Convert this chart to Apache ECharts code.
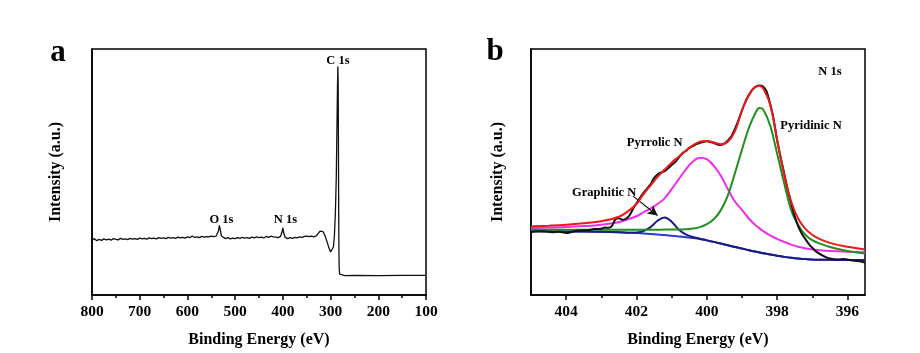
<!DOCTYPE html>
<html><head><meta charset="utf-8">
<script src="https://cdn.jsdelivr.net/npm/echarts@6/dist/echarts.min.js"></script>
<style>html,body{margin:0;padding:0;background:#fff}#c{width:920px;height:353px}</style>
</head><body><div id="c"></div>
<script>
// ---- Panel a: XPS survey ----
const surveyEnergy = [800,795,790,785,780,775,770,765,760,755,750,745,740,735,730,725,720,715,710,705,700,695,690,685,680,675,670,665,660,655,650,645,640,635,630,625,620,615,610,605,600,595,590,585,580,575,570,565,560,555,550,545,540,537,535,533,531,529,526,520,515,510,505,500,495,490,485,480,475,470,465,460,455,450,445,440,435,430,425,420,415,410,405,402,400,398,395,390,385,380,375,370,365,360,355,350,345,340,335,330,326,322,319,316,312,308,304,300,298,296,294,292,290,288,286.5,285.5,284.7,284,283.5,283,282.5,282,281,280,270,250,200,150,100];
const surveyIntensity = [22.3,22.9,22.1,22.6,22.2,22.8,22.4,22.7,22.3,22.9,22.6,22.4,23.0,22.6,22.8,22.5,23.0,22.7,22.9,22.6,23.1,22.8,23.0,22.7,23.2,22.9,23.1,22.8,23.3,23.0,23.2,22.9,23.4,23.1,23.3,23.0,23.5,23.2,23.4,23.1,23.6,23.3,24.0,23.4,23.6,23.3,23.8,23.5,23.7,23.6,23.9,23.7,23.9,24.2,26.0,28.3,26.5,24.0,23.2,22.9,23.3,22.8,23.1,22.9,23.3,23.0,23.4,23.1,23.3,23.0,23.5,23.2,23.6,23.3,23.5,23.2,23.8,23.4,23.9,23.6,23.5,23.3,23.8,25.5,27.3,25.0,23.4,22.9,23.3,23.0,23.4,23.2,23.6,23.4,23.8,23.9,23.7,23.9,23.6,24.0,24.8,26.0,26.3,25.8,24.3,22.0,19.5,17.5,16.9,17.2,19.5,24.0,33.0,48.0,70.0,85.0,92.9,85.0,60.0,35.0,18.0,11.0,8.5,8.0,7.9,8.0,7.9,8.0,8.0];
const surveyTicks = [800,700,600,500,400,300,200,100];
const surveyPeakLabels = ['C 1s','O 1s','N 1s'];

// ---- Panel b: N 1s high-resolution ----
const fitEnergy = [405,404.5,404,403.5,403,402.5,402.2,402,401.8,401.6,401.4,401.2,401,400.8,400.6,400.4,400.2,400,399.8,399.6,399.4,399.2,399,398.8,398.6,398.5,398.4,398.2,398,397.8,397.6,397.4,397.2,397,396.8,396.5,396,395.5];
const backgroundValues = [25.9,25.9,25.8,25.8,25.7,25.5,25.3,25.2,25.0,24.8,24.6,24.4,24.1,23.8,23.5,23.2,22.8,22.2,21.6,20.9,20.2,19.5,18.9,18.2,17.6,17.3,17.0,16.5,16.0,15.5,15.1,14.8,14.6,14.4,14.3,14.3,14.2,14.2];
const graphiticValues = [25.9,25.9,25.8,25.8,25.7,25.5,25.3,25.4,26.0,27.6,30.2,31.5,29.8,26.6,24.6,23.6,22.9,22.2,21.6,20.9,20.2,19.5,18.9,18.2,17.6,17.3,17.0,16.5,16.0,15.5,15.1,14.8,14.6,14.4,14.3,14.3,14.2,14.2];
const pyrrolicValues = [27.2,27.4,27.6,28.0,28.6,29.6,31.0,32.0,33.6,35.2,37.0,39.3,43.0,47.0,51.0,54.2,55.8,55.2,52.5,48.5,43.0,38.0,34.6,31.0,28.2,27.1,26.0,24.2,22.8,21.6,20.5,19.6,19.0,18.5,18.2,17.9,17.6,17.4];
const pyridinicValues = [26.5,26.5,26.5,26.5,26.5,26.5,26.5,26.5,26.5,26.5,26.5,26.6,26.6,26.6,26.7,27.0,27.6,28.8,30.8,34.5,40.5,49.5,59.0,68.0,74.5,76.0,75.5,69.0,57.5,45.5,34.5,28.5,24.5,22.3,21.0,19.5,17.9,16.9];
const envelopeValues = [27.9,28.2,28.6,29.2,30.0,31.8,34.5,37.0,41.0,44.5,48.0,51.0,53.8,56.2,58.6,60.8,62.3,62.6,62.0,61.3,62.3,66.5,75.0,81.5,84.8,85.0,84.0,77.5,63.0,49.0,38.0,31.0,27.0,24.5,22.8,21.2,19.6,18.5];
const expEnergy = [405,404.8,404.6,404.4,404.2,404.0,403.8,403.6,403.4,403.2,403.0,402.9,402.8,402.7,402.6,402.5,402.4,402.3,402.2,402.1,402.0,401.9,401.8,401.7,401.6,401.5,401.4,401.3,401.2,401.1,401.0,400.9,400.8,400.7,400.6,400.5,400.4,400.3,400.2,400.1,400.0,399.9,399.8,399.7,399.6,399.5,399.4,399.3,399.2,399.1,399.0,398.9,398.8,398.7,398.6,398.5,398.4,398.3,398.2,398.1,398.0,397.9,397.8,397.7,397.6,397.5,397.4,397.3,397.2,397.1,397.0,396.9,396.8,396.7,396.6,396.5,396.3,396.1,395.9,395.7,395.5];
const expValues = [25.6,25.9,25.8,25.5,25.7,25.2,25.8,26.2,26.3,26.8,26.9,27.4,27.3,28.0,30.8,31.2,30.6,31.0,32.3,35.0,37.3,39.5,41.5,43.2,45.0,47.5,49.0,49.8,50.3,51.5,52.8,54.0,55.8,57.5,58.5,59.8,60.5,61.3,61.8,62.3,62.5,62.2,61.8,61.2,61.0,61.5,62.8,64.5,67.5,71.0,75.0,78.5,81.3,83.5,84.7,85.2,84.8,82.8,77.8,71.5,63.0,56.0,49.5,43.0,37.3,32.0,27.9,25.0,22.8,20.8,19.2,17.8,16.8,16.0,15.3,14.8,14.4,14.6,14.1,13.8,13.2];
const n1sTicks = [404,402,400,398,396];
const n1sMinorTicks = [403,401,399,397];
const n1sLabels = ['N 1s','Pyridinic N','Pyrrolic N','Graphitic N'];

const FONT = "'Liberation Serif','Times New Roman',serif";
const zip = (xs, ys) => xs.map((x, i) => [x, ys[i]]);
const axisLineStyle = {color:'#000', width:1.5};

const chart = echarts.init(document.getElementById('c'), null, {renderer:'canvas'});

function lineSeries(xi, data, color, width, z) {
  return {type:'line', xAxisIndex:xi, yAxisIndex:xi, data, showSymbol:false, symbol:'none',
    smooth: false, lineStyle:{color, width}, z: z, animation:false};
}

const option = {
  animation:false,
  backgroundColor:'#fff',
  grid:[
    {left:92, right:494, top:49, bottom:56, show:true, borderColor:'#000', borderWidth:1.5, backgroundColor:'transparent'},
    {left:531, right:55, top:49, bottom:55, show:true, borderColor:'#000', borderWidth:1.5, backgroundColor:'transparent'}
  ],
  xAxis:[
    {type:'value', gridIndex:0, min:100, max:800, interval:100, inverse:true,
     name:'Binding Energy (eV)', nameLocation:'middle', nameGap:37,
     nameTextStyle:{fontFamily:FONT, fontWeight:'bold', fontSize:16, color:'#000'},
     axisLine:{show:true, lineStyle:axisLineStyle},
     axisTick:{show:true, inside:false, length:5, lineStyle:{color:'#000', width:1.5}},
     minorTick:{show:true, splitNumber:2, length:3, lineStyle:{color:'#000', width:1.5}},
     axisLabel:{fontFamily:FONT, fontWeight:'bold', fontSize:15.5, color:'#000', margin:9,
       customValues: surveyTicks},
     splitLine:{show:false}},
    {type:'value', gridIndex:1, min:395.5, max:405, inverse:true,
     name:'Binding Energy (eV)', nameLocation:'middle', nameGap:37,
     nameTextStyle:{fontFamily:FONT, fontWeight:'bold', fontSize:16, color:'#000'},
     axisLine:{show:true, lineStyle:axisLineStyle},
     axisTick:{show:true, inside:false, length:5, customValues:n1sTicks, lineStyle:{color:'#000', width:1.5}},
     axisLabel:{fontFamily:FONT, fontWeight:'bold', fontSize:15.5, color:'#000', margin:9, customValues:n1sTicks},
     splitLine:{show:false}},
    {type:'value', gridIndex:1, min:395.5, max:405, inverse:true, position:'bottom',
     axisLine:{show:false},
     axisTick:{show:true, inside:false, length:3, customValues:n1sMinorTicks, lineStyle:{color:'#000', width:1.5}},
     axisLabel:{show:false},
     splitLine:{show:false}}
  ],
  yAxis:[
    {type:'value', gridIndex:0, min:0, max:100,
     name:'Intensity (a.u.)', nameLocation:'middle', nameGap:28,
     nameTextStyle:{fontFamily:FONT, fontWeight:'bold', fontSize:16, color:'#000'},
     axisLine:{show:true, lineStyle:axisLineStyle}, axisTick:{show:false}, axisLabel:{show:false}, splitLine:{show:false}},
    {type:'value', gridIndex:1, min:0, max:100,
     name:'Intensity (a.u.)', nameLocation:'middle', nameGap:25,
     nameTextStyle:{fontFamily:FONT, fontWeight:'bold', fontSize:16, color:'#000'},
     axisLine:{show:true, lineStyle:axisLineStyle}, axisTick:{show:false}, axisLabel:{show:false}, splitLine:{show:false}}
  ],
  series:[
    lineSeries(0, zip(surveyEnergy, surveyIntensity), '#111', 1.3, 3),
    {...lineSeries(1, zip(fitEnergy, backgroundValues), '#2b3bd6', 2, 2), smooth:0.4},
    {...lineSeries(1, zip(fitEnergy, graphiticValues), '#1c1c86', 2, 3), smooth:0.4,
      markLine:{silent:true, symbol:['none','arrow'], symbolSize:[8,10], animation:false,
        lineStyle:{color:'#111', width:1.2, type:'solid'}, label:{show:false},
        data:[[{coord:[402.1,40.2]},{coord:[401.4,32.3]}]]}},
    {...lineSeries(1, zip(fitEnergy, pyrrolicValues), '#f02cf0', 2, 3), smooth:0.4},
    {...lineSeries(1, zip(fitEnergy, pyridinicValues), '#1f8f1f', 2, 3), smooth:0.4},
    {...lineSeries(1, zip(expEnergy, expValues), '#111', 2, 4), smooth:0.3},
    {...lineSeries(1, zip(fitEnergy, envelopeValues), '#f01818', 2, 5), smooth:0.4}
  ],
  graphic:[
    {type:'text', x:58, y:53, style:{text:'a', font:"bold 31px "+FONT, fill:'#000', align:'center', verticalAlign:'middle'}},
    {type:'text', x:495, y:52, style:{text:'b', font:"bold 31px "+FONT, fill:'#000', align:'center', verticalAlign:'middle'}},
    {type:'text', x:338, y:60.5, style:{text:surveyPeakLabels[0], font:"bold 12.5px "+FONT, fill:'#000', align:'center', verticalAlign:'middle'}},
    {type:'text', x:221.5, y:220, style:{text:surveyPeakLabels[1], font:"bold 12.5px "+FONT, fill:'#000', align:'center', verticalAlign:'middle'}},
    {type:'text', x:285.5, y:220, style:{text:surveyPeakLabels[2], font:"bold 12.5px "+FONT, fill:'#000', align:'center', verticalAlign:'middle'}},
    {type:'text', x:830, y:72, style:{text:n1sLabels[0], font:"bold 12.5px "+FONT, fill:'#000', align:'center', verticalAlign:'middle'}},
    {type:'text', x:811, y:126, style:{text:n1sLabels[1], font:"bold 12.5px "+FONT, fill:'#000', align:'center', verticalAlign:'middle'}},
    {type:'text', x:654.7, y:142.5, style:{text:n1sLabels[2], font:"bold 12.5px "+FONT, fill:'#000', align:'center', verticalAlign:'middle'}},
    {type:'text', x:604.2, y:192.5, style:{text:n1sLabels[3], font:"bold 12.5px "+FONT, fill:'#000', align:'center', verticalAlign:'middle'}}
  ]
};
chart.setOption(option);
</script>
</body></html>
